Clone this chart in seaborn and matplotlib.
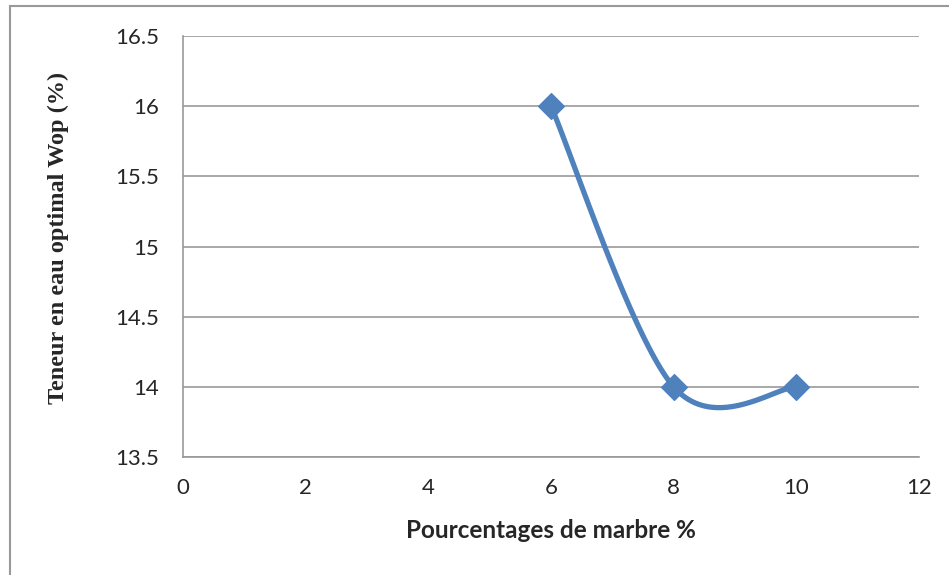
import numpy as np
import pandas as pd
import seaborn as sns
import matplotlib.pyplot as plt
from matplotlib.patches import Rectangle

# data
marbre = [6, 8, 10]
teneur = [16, 14, 14]
x_ticks = [0, 2, 4, 6, 8, 10, 12]
y_ticks = [13.5, 14, 14.5, 15, 15.5, 16, 16.5]
y_tick_labels = ['13.5', '14', '14.5', '15', '15.5', '16', '16.5']

df = pd.DataFrame({'Marbre': marbre, 'Wop': teneur})

# Excel-like smoothed line: cubic Bezier through the points (Catmull-Rom, 1/6)
pts = df[['Marbre', 'Wop']].to_numpy(dtype=float)
ext = np.vstack([pts[0], pts, pts[-1]])
curve = []
t = np.linspace(0, 1, 60)[:, None]
for i in range(len(pts) - 1):
    p0, p3 = ext[i + 1], ext[i + 2]
    p1 = p0 + (ext[i + 2] - ext[i]) / 6
    p2 = p3 - (ext[i + 3] - ext[i + 1]) / 6
    seg = (1 - t) ** 3 * p0 + 3 * (1 - t) ** 2 * t * p1 + 3 * (1 - t) * t ** 2 * p2 + t ** 3 * p3
    curve.append(seg)
curve = pd.DataFrame(np.vstack(curve), columns=['Marbre', 'Wop'])

sns.set_style('white')
fig = plt.figure(figsize=(9.49, 5.75), dpi=100)
ax = fig.add_axes([0.1928, 0.2052, 0.7756, 0.7322])

blue = '#4F81BD'
sns.lineplot(data=curve, x='Marbre', y='Wop', ax=ax, color=blue, linewidth=3.8,
             sort=False, estimator=None)
sns.scatterplot(data=df, x='Marbre', y='Wop', ax=ax, color=blue, marker='D',
                s=170, edgecolor=blue, zorder=5)

ax.set_xlim(0, 12)
ax.set_ylim(13.5, 16.5)
ax.set_xticks(x_ticks)
ax.set_yticks(y_ticks)
ax.set_yticklabels(y_tick_labels)
ax.tick_params(axis='both', length=0, labelsize=16)
ax.tick_params(axis='x', pad=15)
ax.tick_params(axis='y', pad=17)
for lab in ax.get_xticklabels() + ax.get_yticklabels():
    lab.set_family('Lato')

ax.grid(axis='y', color='#999999', linewidth=1.2)
ax.grid(axis='x', visible=False)
ax.set_axisbelow(True)
for side in ['top', 'right']:
    ax.spines[side].set_visible(False)
for side in ['left', 'bottom']:
    ax.spines[side].set_color('#999999')
    ax.spines[side].set_linewidth(1.2)

ax.set_xlabel('Pourcentages de marbre %', fontsize=17.5, fontweight='bold',
              family='Lato', labelpad=15)
ax.set_ylabel('Teneur en eau optimal Wop (%)', fontsize=17.5, fontweight='bold',
              family='Liberation Serif')
ax.yaxis.set_label_coords(-0.155, 0.52)

# chart area border (right and bottom edges fall outside the image)
fig.patches.append(Rectangle((10 / 949, -0.05), 1.1, 1 - 6 / 575 + 0.05,
                             transform=fig.transFigure, fill=False,
                             edgecolor='#999999', linewidth=1.5))

fig.savefig('out.png', dpi=100)
